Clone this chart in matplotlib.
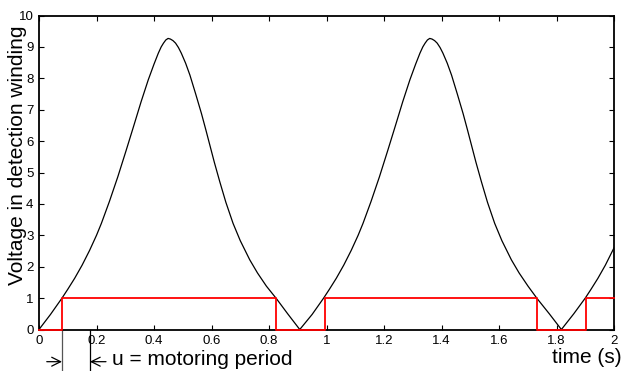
import matplotlib
matplotlib.use("Agg")
import matplotlib.pyplot as plt

plt.rcParams['font.family'] = ['Liberation Sans', 'DejaVu Sans']

# detection winding voltage, first cycle
t_cycle1 = [0.0, 0.04, 0.08, 0.10, 0.124, 0.15, 0.176, 0.20, 0.217, 0.245,
            0.274, 0.303, 0.33, 0.355, 0.38, 0.40, 0.415, 0.425, 0.433, 0.441,
            0.449, 0.457, 0.466, 0.475, 0.485, 0.495, 0.51, 0.525, 0.545, 0.565,
            0.58, 0.594, 0.61, 0.629, 0.65, 0.675, 0.70, 0.733, 0.76, 0.791,
            0.826, 0.865, 0.907]
v_cycle1 = [0.0, 0.48, 1.0, 1.28, 1.63, 2.05, 2.52, 3.0, 3.38, 4.08,
            4.86, 5.7, 6.5, 7.25, 7.95, 8.45, 8.8, 9.0, 9.12, 9.22,
            9.27, 9.25, 9.2, 9.12, 8.98, 8.8, 8.48, 8.1, 7.5, 6.88,
            6.37, 5.88, 5.32, 4.7, 4.05, 3.38, 2.83, 2.22, 1.8, 1.38,
            0.98, 0.5, 0.0]

# second cycle
t_cycle2 = [0.95, 0.99, 1.01, 1.034, 1.06, 1.086, 1.11, 1.127, 1.155,
            1.184, 1.213, 1.24, 1.265, 1.29, 1.31, 1.325, 1.335, 1.343, 1.351,
            1.359, 1.367, 1.376, 1.385, 1.395, 1.405, 1.42, 1.435, 1.455, 1.475,
            1.49, 1.504, 1.52, 1.539, 1.56, 1.585, 1.61, 1.643, 1.67, 1.701,
            1.733, 1.775, 1.817]
v_cycle2 = [0.48, 1.0, 1.28, 1.63, 2.05, 2.52, 3.0, 3.38, 4.08,
            4.86, 5.7, 6.5, 7.25, 7.95, 8.45, 8.8, 9.0, 9.12, 9.22,
            9.27, 9.25, 9.2, 9.12, 8.98, 8.8, 8.48, 8.1, 7.5, 6.88,
            6.37, 5.88, 5.32, 4.7, 4.05, 3.38, 2.83, 2.22, 1.8, 1.38,
            0.98, 0.5, 0.0]

# start of the third cycle
t_cycle3 = [1.86, 1.9, 1.92, 1.944, 1.97, 2.0]
v_cycle3 = [0.5, 1.0, 1.28, 1.63, 2.05, 2.6]

# motoring signal (switches at threshold crossings)
switch_times = [0.0, 0.08, 0.826, 0.994, 1.731, 1.902, 2.0]
switch_levels = [0, 1, 0, 1, 0, 1, 1]

x_ticks = [0, 0.2, 0.4, 0.6, 0.8, 1, 1.2, 1.4, 1.6, 1.8, 2]
x_tick_labels = ['0', '0.2', '0.4', '0.6', '0.8', '1', '1.2', '1.4', '1.6', '1.8', '2']
y_ticks = list(range(11))

fig = plt.figure(figsize=(6.26, 3.71), dpi=100)
ax = fig.add_axes([39 / 626, 1 - 329.5 / 371, 575 / 626, 314 / 371])

t_all = t_cycle1 + t_cycle2 + t_cycle3
v_all = v_cycle1 + v_cycle2 + v_cycle3
ax.plot(t_all, v_all, color='black', lw=0.9)
ax.step(switch_times, switch_levels, where='post', color='#ff0000', lw=1.3,
        clip_on=False, zorder=3)

ax.set_xlim(0, 2)
ax.set_ylim(0, 10)
ax.set_xticks(x_ticks)
ax.set_xticklabels(x_tick_labels)
ax.set_yticks(y_ticks)
ax.tick_params(direction='in', length=3.5, width=0.8, top=True, right=True,
               labelsize=9.5, pad=4)
for s in ax.spines.values():
    s.set_linewidth(1.3)

ax.set_ylabel('Voltage in detection winding', fontsize=15)
ax.yaxis.label.set_va('center')
ax.yaxis.set_label_coords(-0.037, 0.555)

# motoring period marker below the axis
trans = ax.get_xaxis_transform()
u_start, u_end = 0.08, 0.177
ax.plot([u_start, u_start], [0, -0.135], transform=trans, color='#555555',
        lw=0.9, clip_on=False)
ax.plot([u_end, u_end], [0, -0.135], transform=trans, color='black',
        lw=0.9, clip_on=False)
y_arrow = -0.1025
arrow_style = dict(arrowstyle='->', lw=0.9, color='black',
                   shrinkA=0, shrinkB=0, mutation_scale=16)
ax.annotate('', xy=(u_start, y_arrow), xytext=(0.027, y_arrow),
            xycoords=trans, textcoords=trans, arrowprops=arrow_style)
ax.annotate('', xy=(u_end, y_arrow), xytext=(0.233, y_arrow),
            xycoords=trans, textcoords=trans, arrowprops=arrow_style)
ax.text(0.254, -0.097, 'u = motoring period', transform=trans,
        fontsize=15, ha='left', va='center')
ax.text(1.786, -0.09, 'time (s)', transform=trans,
        fontsize=15, ha='left', va='center')

fig.savefig('out.png', dpi=100)
